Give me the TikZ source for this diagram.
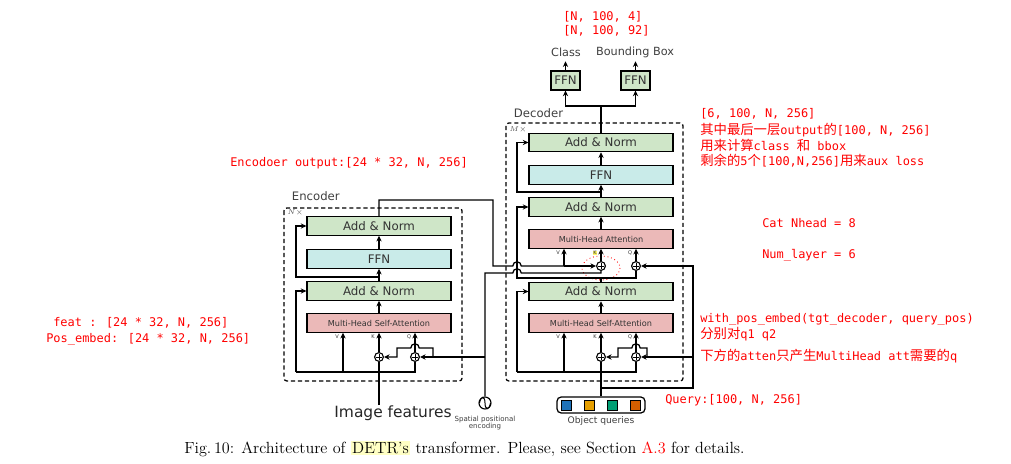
\documentclass[tikz,border=0pt]{standalone}
\usepackage{fontspec}
\usetikzlibrary{arrows.meta,positioning,calc}
\newfontfamily\dejavu{DejaVu Sans}
\newfontfamily\monofnt{DejaVu Sans Mono}
\newfontfamily\cjk{Noto Sans CJK SC}
\newcommand{\zh}[1]{{\cjk\fontsize{9.5}{10}\selectfont #1}}
\definecolor{normgreen}{HTML}{CFE6C8}
\definecolor{ffncyan}{HTML}{C9EBE9}
\definecolor{attpink}{HTML}{EBB9B8}
\definecolor{annred}{HTML}{FF0000}
\definecolor{hlyellow}{HTML}{FFFFC4}
\definecolor{qblue}{HTML}{1F72B8}
\definecolor{qorange}{HTML}{E69F00}
\definecolor{qgreen}{HTML}{009E73}
\definecolor{qred}{HTML}{D55E00}
\setlength{\fboxsep}{1pt}
\begin{document}
\begin{tikzpicture}[x=0.025cm,y=-0.025cm,
  wire/.style={line width=0.9pt},
  arr/.style={wire,-{Stealth[length=4pt,width=3.8pt]}},
  blk/.style={draw,line width=0.9pt,minimum width=3.6cm,minimum height=0.46cm,inner sep=0pt,text=black!80,font=\dejavu\fontsize{8.4}{9}\selectfont},
  addnorm/.style={blk,fill=normgreen},
  ffnbox/.style={blk,fill=ffncyan},
  attbox/.style={blk,fill=attpink,font=\dejavu\fontsize{5.8}{6}\selectfont},
  headbox/.style={blk,fill=normgreen,minimum width=0.725cm,minimum height=0.475cm},
  plusnode/.style={circle,draw,line width=0.8pt,minimum size=0.22cm,inner sep=0pt,fill=white,
    path picture={\draw[line width=0.6pt] ([xshift=-1.8pt]path picture bounding box.center) -- ([xshift=1.8pt]path picture bounding box.center)
      ([yshift=-1.8pt]path picture bounding box.center) -- ([yshift=1.8pt]path picture bounding box.center);}},
  stack/.style={draw,line width=0.9pt,dash pattern=on 3pt off 2pt,rounded corners=2pt},
  vkq/.style={font=\dejavu\fontsize{3.6}{4}\selectfont,inner sep=0.3pt,text=black!80},
  title/.style={font=\dejavu\fontsize{8.3}{9}\selectfont,text=black!75},
  note/.style={font=\monofnt\fontsize{8.5}{9}\selectfont,text=annred,anchor=west,inner sep=0pt},
  tile/.style={draw,line width=0.4pt,minimum size=0.25cm,inner sep=0pt}]
\useasboundingbox (0,0) rectangle (1011,464);
\fill[white] (0,0) rectangle (1011,464);

\node[addnorm] (e_an1) at (379,226) {Add \& Norm};
\node[ffnbox] (e_ffn) at (379,259) {FFN};
\node[addnorm] (e_an2) at (379,291) {Add \& Norm};
\node[attbox] (e_att) at (379,323) {Multi-Head Self-Attention};
\node[plusnode] (e_pk) at (379,357) {};
\node[plusnode] (e_pq) at (415,357) {};
\draw[stack] (284,208) rectangle (462,381);
\node[title,anchor=west] (e_title) at (287,196) {Encoder};
\node[anchor=west,inner sep=0pt,text=black!70,font=\fontsize{4.5}{5}\selectfont] (e_n) at (287,213) {$N\times$};
\node[vkq] (e_v) at (337,337) {V};
\node[vkq] (e_k) at (373,337) {K};
\node[vkq] (e_q) at (409,337) {Q};
\node[font=\dejavu\fontsize{11}{12}\selectfont,text=black!85] (imgf) at (393,413) {Image features};
\coordinate (e_in) at (379,405);
\node[circle,draw,line width=0.8pt,minimum size=0.3cm,inner sep=0pt] (spat) at (485,403) {};
\draw[line width=0.7pt] (479.5,403) .. controls (481,395) and (485,396) .. (485,403) .. controls (485,410) and (489,411) .. (490.5,403);
\node[align=center,font=\dejavu\fontsize{5}{5.6}\selectfont,text=black!75] (spat_t) at (485,423) {Spatial positional\\encoding};

\coordinate (e_bus) at (296,372);
\coordinate (e_vb) at (343,372);
\coordinate (e_r2) at (379,277);
\coordinate (e_pj) at (485,357);
\draw[wire] (e_in) -- (e_pk);
\draw[arr] (e_pk) -- (e_att);
\draw[wire] (e_bus) -- (415,372) -- (e_pq);
\draw[arr] (e_vb) -- (e_vb |- e_att.south);
\draw[arr] (e_pq) -- (e_pq |- e_att.south);
\draw[arr] (e_bus) |- (e_an2.west);
\draw[arr] (e_att) -- (e_an2);
\draw[arr] (e_an2) -- (e_ffn);
\draw[arr] (e_r2) -- (296,277) |- (e_an1.west);
\draw[arr] (e_ffn) -- (e_an1);
\draw[arr] (e_pj) -- (e_pq);
\draw[arr] (433,357) -- (433,348) -- (419.2,348) arc[start angle=0,end angle=180,radius=3pt] -- (397,348) -- (397,357) -- (e_pk);

\node[addnorm] (d_an1) at (601,142.5) {Add \& Norm};
\node[ffnbox] (d_ffn) at (601,175) {FFN};
\node[addnorm] (d_an2) at (601,207) {Add \& Norm};
\node[attbox] (d_att) at (601,239) {Multi-Head Attention};
\node[plusnode] (d_pk) at (601,266) {};
\node[plusnode] (d_pq) at (636,266) {};
\node[addnorm] (d_an3) at (601,291.5) {Add \& Norm};
\node[attbox] (d_satt) at (601,323) {Multi-Head Self-Attention};
\node[plusnode] (d_sk) at (601,357) {};
\node[plusnode] (d_sq) at (636,357) {};
\draw[stack] (506,123) rectangle (683,381);
\node[title,anchor=west] (d_title) at (509,113) {Decoder};
\node[anchor=west,inner sep=0pt,text=black!70,font=\fontsize{4.5}{5}\selectfont] (d_n) at (509,130) {$M\times$};
\node[vkq] (d_v) at (558,253) {V};
\node[vkq,fill=yellow!60] (d_k) at (595,253) {K};
\node[vkq] (d_q) at (630,253) {Q};
\node[vkq] (d_sv) at (558,337) {V};
\node[vkq] (d_sk_t) at (595,337) {K};
\node[vkq] (d_sq_t) at (630,337) {Q};
\draw[annred,dotted,line width=0.6pt] (601,268) ellipse [x radius=19,y radius=12];

\node[headbox] (h_cls) at (565.5,80.5) {FFN};
\node[headbox] (h_box) at (635.5,80.5) {FFN};
\node[title,font=\dejavu\fontsize{8}{9}\selectfont] (t_cls) at (566,52) {Class};
\node[title,font=\dejavu\fontsize{8}{9}\selectfont] (t_box) at (635,52) {Bounding Box};
\draw[arr] (h_cls.north) -- ++(0,-9);
\draw[arr] (h_box.north) -- ++(0,-9);
\coordinate (d_out) at (601,106);
\draw[wire] (d_an1) -- (d_out);
\draw[arr] (d_out) -| (h_cls);
\draw[arr] (d_out) -| (h_box);

\coordinate (d_r1) at (601,192);
\coordinate (d_t) at (601,278);
\coordinate (d_bus) at (517,372);
\coordinate (d_vb) at (564,372);
\coordinate (d_qj) at (601,388);
\coordinate (d_mem) at (564,266);
\draw[arr] (d_ffn) -- (d_an1);
\draw[arr] (d_an2) -- (d_ffn);
\draw[arr] (d_r1) -- (517,192) |- (d_an1.west);
\draw[arr] (d_att) -- (d_an2);
\draw[arr] (d_pk) -- (d_att);
\draw[arr] (d_pq) -- (d_pq |- d_att.south);
\draw[wire] (d_an3) -- (d_t);
\draw[arr] (d_t) -- (517,278) |- (d_an2.west);
\draw[wire] (d_t) -| (d_pq);

\draw[wire] (e_an1) -- (379,200) -- (493,200) -- (493,266) -- (512.8,266) arc[start angle=180,end angle=0,radius=3pt] -- (d_mem);
\draw[arr] (d_mem) -- (d_pk);
\draw[arr] (d_mem) -- (d_mem |- d_att.south);
\draw[wire] (spat) -- (485,273) -- (512.8,273) arc[start angle=180,end angle=0,radius=3pt] -| (d_pk);

\node[draw,line width=0.9pt,rounded corners=3pt,minimum width=2.2cm,minimum height=0.4cm,inner sep=0pt] (objq) at (601,405) {};
\node[tile,fill=qblue] (q1) at (566,405) {};
\node[tile,fill=qorange] (q2) at (589,405) {};
\node[tile,fill=qgreen] (q3) at (612,405) {};
\node[tile,fill=qred] (q4) at (635,405) {};
\node[font=\dejavu\fontsize{6.5}{7}\selectfont,text=black!75] (objq_t) at (601,421) {Object queries};
\draw[wire] (objq) -- (d_sk);
\draw[arr] (d_qj) -| (693,266) -- (d_pq);
\draw[arr] (693,357) -- (d_sq);
\draw[arr] (647,357) -- (647,348) -- (640.2,348) arc[start angle=0,end angle=180,radius=3pt] -- (618,348) -- (618,357) -- (d_sk);
\draw[arr] (d_sk) -- (d_satt);
\draw[arr] (d_sq) -- (d_sq |- d_satt.south);
\draw[wire] (d_bus) -- (636,372) -- (d_sq);
\draw[arr] (d_vb) -- (d_vb |- d_satt.south);
\draw[arr] (d_bus) |- (d_an3.west);
\draw[arr] (d_satt) -- (d_an3);

\node[note] (n_box) at (563,17) {[N, 100, 4]};
\node[note] (n_cls) at (563,31) {[N, 100, 92]};
\node[note] (n_dec1) at (700,114) {[6, 100, N, 256]};
\node[note] (n_dec2) at (700,130) {\zh{其中最后一层}output\zh{的}[100, N, 256]};
\node[note] (n_dec3) at (700,145) {\zh{用来计算}class \zh{和} bbox};
\node[note] (n_dec4) at (700,161) {\zh{剩余的}5\zh{个}[100,N,256]\zh{用来}aux loss};
\node[note] (n_enc) at (230,163) {Encodoer output:[24 * 32, N, 256]};
\node[note] (n_head) at (762,223) {Cat Nhead = 8};
\node[note] (n_layer) at (762,255) {Num\_layer = 6};
\node[note] (n_feat) at (53,323) {feat : [24 * 32, N, 256]};
\node[note] (n_pos) at (46,339) {Pos\_embed: [24 * 32, N, 256]};
\node[note] (n_wpe) at (700,319) {with\_pos\_embed(tgt\_decoder, query\_pos)};
\node[note] (n_q12) at (700,334) {\zh{分别对}q1 q2};
\node[note] (n_att) at (700,356) {\zh{下方的}atten\zh{只产生}MultiHead att\zh{需要的}q};
\node[note] (n_query) at (665,400) {Query:[100, N, 256]};

\node[anchor=west,inner sep=0pt,font=\fontsize{11.5}{13}\selectfont] (cap) at (184,449) {Fig.\,10: Architecture of \colorbox{hlyellow}{DETR's} transformer. Please, see Section \textcolor{red}{A.3} for details.};
\end{tikzpicture}
\end{document}
